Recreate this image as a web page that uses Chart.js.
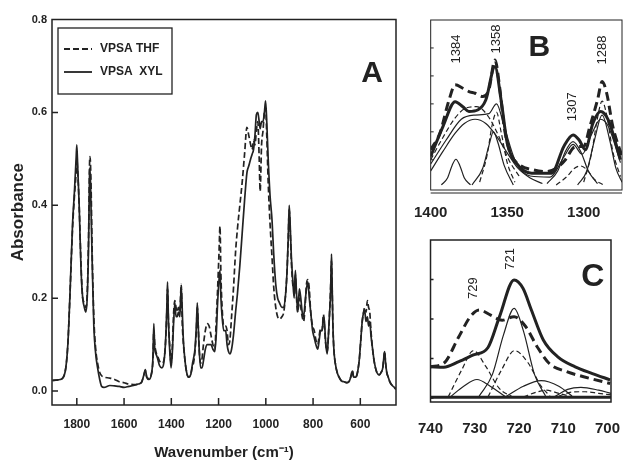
<!DOCTYPE html>
<html>
<head>
<meta charset="utf-8">
<script src="https://cdn.jsdelivr.net/npm/chart.js@4.4.1/dist/chart.umd.min.js"></script>
<style>
  body { margin: 0; background: #fff; width: 638px; height: 474px; overflow: hidden; position: relative; }
  canvas { position: absolute; }
</style>
</head>
<body>
<canvas id="chartA" width="410" height="474" style="left:0;top:0"></canvas>
<canvas id="chartB" width="238" height="232" style="left:400px;top:0"></canvas>
<canvas id="chartC" width="238" height="242" style="left:400px;top:232px"></canvas>
<script>
// ---- panel A: full spectrum ----
const wnA = [
  1903,1870,1850,1838,1828,1818,1810,1803,1800,1796,
  1790,1782,1775,1768,1762,1756,1750,1746,1744,1740,
  1735,1728,1720,1712,1703,1695,1685,1660,1640,1620,
  1600,1580,1560,1540,1525,1516,1510,1504,1495,1485,
  1478,1474,1470,1465,1458,1450,1440,1432,1425,1419,
  1416,1412,1407,1401,1396,1390,1385,1380,1375,1370,
  1364,1358,1354,1350,1343,1335,1327,1318,1310,1306,
  1300,1294,1290,1286,1282,1276,1270,1264,1256,1248,
  1240,1232,1224,1216,1210,1204,1198,1194,1190,1185,
  1178,1170,1164,1158,1152,1145,1137,1128,1120,1110,
  1100,1090,1080,1072,1064,1058,1052,1046,1040,1034,
  1028,1024,1018,1012,1006,1001,996,990,982,974,
  966,958,950,942,932,924,916,910,905,901,
  897,892,886,880,875,870,865,858,852,846,
  840,834,828,822,816,810,802,795,788,780,
  774,768,762,756,752,746,740,735,730,726,
  722,720,716,712,706,698,690,680,668,656,
  646,638,634,628,620,612,604,598,592,586,
  582,576,570,565,560,555,548,540,530,520,
  512,505,500,497,493,488,482,475,465,456,449
];
const xylA = [
  0.023,0.025,0.04,0.10,0.22,0.36,0.43,0.50,0.53,0.48,
  0.40,0.26,0.20,0.18,0.17,0.20,0.32,0.47,0.48,0.40,
  0.28,0.14,0.08,0.05,0.025,0.01,0.008,0.012,0.011,0.01,
  0.008,0.01,0.012,0.015,0.02,0.035,0.046,0.03,0.025,0.035,
  0.07,0.145,0.09,0.08,0.07,0.055,0.05,0.06,0.10,0.18,
  0.235,0.15,0.09,0.05,0.08,0.15,0.19,0.16,0.16,0.17,
  0.16,0.225,0.18,0.12,0.07,0.04,0.03,0.035,0.06,0.07,
  0.09,0.14,0.19,0.14,0.09,0.05,0.05,0.065,0.09,0.10,
  0.10,0.10,0.09,0.085,0.12,0.19,0.24,0.26,0.20,0.16,
  0.13,0.13,0.10,0.085,0.08,0.09,0.12,0.17,0.21,0.27,
  0.34,0.41,0.47,0.485,0.50,0.51,0.52,0.55,0.595,0.60,
  0.58,0.565,0.58,0.58,0.60,0.625,0.58,0.50,0.42,0.37,
  0.29,0.23,0.20,0.19,0.18,0.18,0.21,0.26,0.33,0.40,
  0.36,0.29,0.24,0.20,0.26,0.21,0.17,0.22,0.20,0.17,
  0.16,0.19,0.22,0.235,0.20,0.17,0.13,0.115,0.10,0.09,
  0.11,0.13,0.13,0.16,0.15,0.10,0.08,0.12,0.17,0.21,
  0.295,0.25,0.14,0.09,0.06,0.04,0.03,0.022,0.02,0.018,
  0.022,0.035,0.043,0.03,0.03,0.04,0.07,0.11,0.15,0.17,
  0.175,0.15,0.16,0.14,0.15,0.12,0.09,0.06,0.04,0.035,
  0.04,0.05,0.075,0.085,0.06,0.04,0.03,0.02,0.012,0.008,0.004
];
const thfA = [
  0.023,0.025,0.04,0.10,0.22,0.35,0.42,0.47,0.50,0.47,
  0.40,0.27,0.20,0.19,0.18,0.21,0.34,0.49,0.505,0.45,
  0.30,0.16,0.09,0.06,0.04,0.033,0.03,0.028,0.025,0.02,
  0.018,0.015,0.014,0.015,0.02,0.035,0.044,0.03,0.027,0.035,
  0.065,0.13,0.10,0.085,0.075,0.065,0.06,0.065,0.10,0.17,
  0.22,0.15,0.10,0.06,0.09,0.17,0.195,0.18,0.17,0.18,
  0.17,0.23,0.15,0.11,0.07,0.04,0.03,0.035,0.055,0.06,
  0.085,0.13,0.18,0.14,0.09,0.06,0.07,0.10,0.13,0.145,
  0.14,0.12,0.10,0.09,0.15,0.22,0.30,0.355,0.25,0.18,
  0.14,0.14,0.13,0.10,0.11,0.16,0.22,0.30,0.35,0.40,
  0.45,0.51,0.568,0.55,0.53,0.52,0.54,0.53,0.56,0.58,
  0.50,0.43,0.53,0.56,0.60,0.61,0.55,0.45,0.36,0.29,
  0.22,0.18,0.16,0.155,0.16,0.17,0.21,0.26,0.33,0.39,
  0.35,0.28,0.23,0.22,0.25,0.20,0.17,0.20,0.18,0.16,
  0.15,0.18,0.23,0.24,0.22,0.17,0.14,0.13,0.11,0.10,
  0.12,0.135,0.13,0.165,0.14,0.10,0.085,0.12,0.17,0.22,
  0.28,0.24,0.14,0.09,0.06,0.04,0.03,0.022,0.02,0.018,
  0.022,0.035,0.045,0.03,0.03,0.04,0.07,0.11,0.15,0.17,
  0.18,0.17,0.195,0.18,0.17,0.13,0.09,0.06,0.04,0.035,
  0.04,0.05,0.075,0.085,0.06,0.04,0.03,0.02,0.012,0.008,0.004
];

// ---- panel B: 1400-1275 region, totals + fitted bands ----
const wnB_thf = [1400,1394,1388,1384,1379,1375,1371,1366,1362,1358,1355,1352,1348,1342,1333,1325,1318,1312,1307,1304,1300,1296,1291,1288,1285,1281,1275];
const thfB    = [1.36,1.95,3.14,3.68,3.56,3.44,3.38,3.26,3.5,4.57,3.62,2.19,1.24,0.82,0.64,0.58,0.70,1.0,1.42,1.48,1.48,2.19,3.14,3.8,3.38,2.19,1.12];
const wnB_xyl = [1400,1392,1384,1379,1375,1369,1364,1358,1354,1350,1344,1334,1321,1313,1307,1303,1299,1294,1289,1284,1276];
const xylB    = [1.12,2.19,3.08,2.90,2.73,2.79,3.14,4.33,3.14,1.6,0.88,0.52,0.52,1.48,1.89,1.71,1.36,2.31,2.73,2.43,1.0];
const wnB_fit = [1400,1390,1380,1371,1362,1357,1352,1345,1335,1322,1313,1307,1301,1295,1289,1284,1276];
const fitB    = [0.85,1.7,2.45,2.6,2.65,3.0,2.2,1.0,0.42,0.38,1.1,1.55,1.2,1.9,2.45,2.2,0.9];
// solid bands (XYL)
const bandB1_wn = [1400,1392,1384,1378,1371,1364,1357,1350,1343,1335,1327];
const bandB1    = [0.6,1.3,1.95,2.3,2.45,2.3,1.85,1.25,0.7,0.35,0.15];
const bandB2_wn = [1393,1389,1386,1383.5,1381,1378,1374];
const bandB2    = [0.1,0.35,0.8,1.02,0.8,0.35,0.1];
const bandB3_wn = [1373,1366,1362,1359,1356,1352,1346];
const bandB3    = [0.1,0.7,1.5,2.0,1.6,0.8,0.1];
const bandB4_wn = [1324,1317,1312,1307,1302,1297,1291];
const bandB4    = [0.15,0.6,1.3,1.65,1.3,0.6,0.15];
const bandB5_wn = [1304,1298,1293,1288,1283,1279,1275];
const bandB5    = [0.1,0.6,1.7,2.6,1.7,0.7,0.2];
// dashed bands (THF)
const bandB6_wn = [1400,1392,1384,1377,1370,1363,1356,1349,1342];
const bandB6    = [1.0,1.8,2.5,2.85,2.9,2.6,1.9,1.0,0.4];
const bandB7_wn = [1368,1363,1360,1357,1354,1350,1345];
const bandB7    = [0.2,1.2,2.2,2.7,2.0,0.9,0.2];
const bandB8_wn = [1318,1311,1306,1302,1298,1293,1287];
const bandB8    = [0.1,0.4,0.7,0.78,0.65,0.3,0.1];
const bandB9_wn = [1300,1295,1291,1288,1285,1281,1276];
const bandB9    = [0.2,1.2,2.5,3.1,2.6,1.3,0.4];
const peaksB = ['1384','1358','1307','1288'];
const peaksB_x = [1383,1357,1307.5,1287.5];
const peaksB_y = [4.96,5.32,2.9,4.93];

// ---- panel C: 740-700 region ----
const wnC_xyl = [740,737,733.6,730.3,727,724.4,721.1,719.1,717.2,714.5,711.3,707.3,703.4,699.4];
const xylC    = [0.79,0.78,0.92,1.09,1.28,2.06,2.99,2.78,2.23,1.47,1.05,0.79,0.62,0.46];
const wnC_thf = [740,737,733.6,731,729,726.4,723.8,721.1,718.5,715.9,713.2,709.3,705.4,699.4];
const thfC    = [0.79,0.88,1.55,2.06,2.23,2.1,1.97,2.06,1.81,1.30,0.88,0.67,0.54,0.37];
const baseC_wn = [740,699.2];
const baseC    = [0.02,0.02];
const bandC1_wn = [729,726,723.5,721.1,719,716.5,714];
const bandC1    = [0.05,0.6,1.6,2.27,1.7,0.6,0.05];
const bandC2_wn = [735.5,732.5,729.5,726.5,723];
const bandC2    = [0.03,0.3,0.47,0.3,0.03];
const bandC3_wn = [723,719,715,711,708];
const bandC3    = [0.03,0.3,0.44,0.3,0.05];
const bandC4_wn = [712,709,706,702,699.2];
const bandC4    = [0.03,0.22,0.27,0.2,0.12];
const bandC5_wn = [736,733,730.3,727.5,724.5,721.5];
const bandC5    = [0.03,0.7,1.2,0.8,0.25,0.03];
const bandC6_wn = [727,724,721,718,715,713];
const bandC6    = [0.03,0.7,1.2,0.9,0.3,0.05];
const bandC7_wn = [719,716,714,711,708];
const bandC7    = [0.03,0.15,0.2,0.12,0.03];
const bandC8_wn = [711,708,705,702,699.2];
const bandC8    = [0.05,0.15,0.16,0.12,0.08];
const peaksC = ['729','721'];
const peaksC_x = [730.3,722];
const peaksC_y = [2.78,3.52];

const INK = '#222';
const FONT = '"Liberation Sans Narrow", "Liberation Sans", Arial, sans-serif';

function series(label, xs, ys, style) {
  return Object.assign({
    label: label,
    data: xs.map((x, i) => ({ x: x, y: ys[i] })),
    borderColor: INK,
    pointRadius: 0,
    fill: false,
    cubicInterpolationMode: 'monotone'
  }, style);
}
const thick = { borderWidth: 3 };
const thickDash = { borderWidth: 3, borderDash: [9, 5] };
const thin = { borderWidth: 1.2 };
const thinDash = { borderWidth: 1.2, borderDash: [5, 3] };

// frame round the plot area, ticks pointing inwards
const framePlugin = {
  id: 'frame',
  afterDatasetsDraw(chart, args, opts) {
    const { ctx, chartArea: a, scales } = chart;
    ctx.save();
    ctx.strokeStyle = INK;
    ctx.lineWidth = opts.width;
    ctx.strokeRect(a.left, a.top, a.right - a.left, a.bottom - a.top);
    if (opts.double) {
      ctx.lineWidth = 1;
      ctx.beginPath();
      ctx.moveTo(a.left, a.bottom + 3); ctx.lineTo(a.right, a.bottom + 3);
      ctx.stroke();
    }
    ctx.lineWidth = opts.width;
    ctx.beginPath();
    scales.x.ticks.forEach(t => {
      const p = scales.x.getPixelForValue(t.value);
      if (p < a.left + 3 || p > a.right - 3) return;
      ctx.moveTo(p, a.bottom); ctx.lineTo(p, a.bottom - opts.xTick);
    });
    scales.y.ticks.forEach(t => {
      const p = scales.y.getPixelForValue(t.value);
      if (p < a.top + 3 || p > a.bottom - 3) return;
      ctx.moveTo(a.left, p); ctx.lineTo(a.left + opts.yTick, p);
    });
    ctx.stroke();
    ctx.restore();
  }
};

// panel letter and rotated peak labels
const notesPlugin = {
  id: 'notes',
  afterDatasetsDraw(chart, args, opts) {
    const { ctx, scales: { x, y } } = chart;
    ctx.save();
    ctx.fillStyle = INK;
    ctx.textAlign = 'center';
    ctx.textBaseline = 'middle';
    ctx.font = 'bold ' + opts.letterSize + 'px ' + FONT;
    ctx.fillText(opts.letter, x.getPixelForValue(opts.letterX), y.getPixelForValue(opts.letterY));
    ctx.font = '13px ' + FONT;
    (opts.peaks || []).forEach((txt, i) => {
      ctx.save();
      ctx.translate(x.getPixelForValue(opts.peaksX[i]), y.getPixelForValue(opts.peaksY[i]));
      ctx.rotate(-Math.PI / 2);
      ctx.fillText(txt, 0, 0);
      ctx.restore();
    });
    ctx.restore();
  }
};

// boxed legend in the top-left corner of panel A
const boxLegend = {
  id: 'boxLegend',
  afterDatasetsDraw(chart) {
    const { ctx, chartArea: a } = chart;
    const x0 = a.left + 6, y0 = a.top + 8.5;
    ctx.save();
    ctx.strokeStyle = INK;
    ctx.lineWidth = 1.3;
    ctx.strokeRect(x0, y0, 114, 66);
    ctx.font = 'bold 12px ' + FONT;
    ctx.fillStyle = INK;
    ctx.textBaseline = 'middle';
    chart.data.datasets.forEach((ds, i) => {
      const yy = y0 + 21 + i * 23;
      ctx.lineWidth = 1.8;
      ctx.setLineDash(ds.borderDash || []);
      ctx.beginPath();
      ctx.moveTo(x0 + 6, yy); ctx.lineTo(x0 + 34, yy);
      ctx.stroke();
      ctx.setLineDash([]);
      ctx.fillText(ds.label, x0 + 42, yy);
    });
    ctx.restore();
  }
};

Chart.defaults.font.family = FONT;
Chart.defaults.color = INK;

function baseOptions(o) {
  return {
    responsive: false,
    animation: false,
    devicePixelRatio: 1,
    layout: { padding: o.padding },
    plugins: {
      legend: { display: false },
      tooltip: { enabled: false },
      frame: o.frame,
      notes: o.notes
    },
    scales: {
      x: {
        type: 'linear', reverse: true, min: o.xMin, max: o.xMax,
        grid: { display: false, drawTicks: false },
        border: { display: false },
        ticks: { stepSize: o.xStep, includeBounds: false, padding: o.xPad, maxRotation: 0,
                 font: { size: o.xFont, weight: 'bold' }, callback: v => String(v) },
        title: o.xTitle || { display: false },
        afterFit: s => { s.height = o.xHeight; }
      },
      y: {
        type: 'linear', min: o.yMin, max: o.yMax,
        grid: { display: false, drawTicks: false },
        border: { display: false },
        ticks: o.yTicks,
        title: o.yTitle || { display: false },
        afterFit: s => { s.width = o.yWidth; }
      }
    }
  };
}

new Chart(document.getElementById('chartA'), {
  type: 'line',
  data: {
    datasets: [
      series('VPSA THF', wnA, thfA, { borderWidth: 1.7, borderDash: [6, 3] }),
      series('VPSA  XYL', wnA, xylA, { borderWidth: 1.7 })
    ]
  },
  options: baseOptions({
    padding: { left: 6, top: 19.5, right: 14, bottom: 10 },
    xMin: 449, xMax: 1905, xStep: 200, xPad: 12, xFont: 12, xHeight: 59,
    xTitle: { display: true, text: 'Wavenumber (cm\u207B\u00B9)', font: { size: 15, weight: 'bold' }, padding: { top: 0, bottom: 2 } },
    yMin: -0.03, yMax: 0.8, yWidth: 46,
    yTicks: { stepSize: 0.2, includeBounds: false, padding: 5, font: { size: 11, weight: 'bold' },
              callback: v => v.toFixed(1) },
    yTitle: { display: true, text: 'Absorbance', font: { size: 17, weight: 'bold' }, padding: { top: 2, bottom: 2 } },
    frame: { width: 1.5, xTick: 7, yTick: 6 },
    notes: { letter: 'A', letterSize: 30, letterX: 550, letterY: 0.684 }
  }),
  plugins: [framePlugin, notesPlugin, boxLegend]
});

new Chart(document.getElementById('chartB'), {
  type: 'line',
  data: {
    datasets: [
      series('THF', wnB_thf, thfB, thickDash),
      series('XYL', wnB_xyl, xylB, thick),
      series('fit', wnB_fit, fitB, thin),
      series('b1', bandB1_wn, bandB1, thin),
      series('b2', bandB2_wn, bandB2, thin),
      series('b3', bandB3_wn, bandB3, thin),
      series('b4', bandB4_wn, bandB4, thin),
      series('b5', bandB5_wn, bandB5, thin),
      series('b6', bandB6_wn, bandB6, thinDash),
      series('b7', bandB7_wn, bandB7, thinDash),
      series('b8', bandB8_wn, bandB8, thinDash),
      series('b9', bandB9_wn, bandB9, thinDash)
    ]
  },
  options: baseOptions({
    padding: { left: 0, top: 20, right: 16, bottom: 0 },
    xMin: 1275, xMax: 1400, xStep: 50, xPad: 14, xFont: 15, xHeight: 42,
    yMin: -0.08, yMax: 6, yWidth: 23,
    yTicks: { display: false, stepSize: 1, includeBounds: false },
    frame: { width: 1, xTick: 0, yTick: 3, double: true },
    notes: { letter: 'B', letterSize: 30, letterX: 1329, letterY: 5.0,
             peaks: peaksB, peaksX: peaksB_x, peaksY: peaksB_y }
  }),
  plugins: [framePlugin, notesPlugin]
});

new Chart(document.getElementById('chartC'), {
  type: 'line',
  data: {
    datasets: [
      series('THF', wnC_thf, thfC, thickDash),
      series('XYL', wnC_xyl, xylC, thick),
      series('base', baseC_wn, baseC, thick),
      series('c1', bandC1_wn, bandC1, thin),
      series('c2', bandC2_wn, bandC2, thin),
      series('c3', bandC3_wn, bandC3, thin),
      series('c4', bandC4_wn, bandC4, thin),
      series('c5', bandC5_wn, bandC5, thinDash),
      series('c6', bandC6_wn, bandC6, thinDash),
      series('c7', bandC7_wn, bandC7, thinDash),
      series('c8', bandC8_wn, bandC8, thinDash)
    ]
  },
  options: baseOptions({
    padding: { left: 0, top: 8, right: 11, bottom: 0 },
    xMin: 699.2, xMax: 740, xStep: 10, xPad: 18, xFont: 15, xHeight: 72,
    yMin: -0.1, yMax: 4, yWidth: 21,
    yTicks: { display: false, stepSize: 1, includeBounds: false },
    frame: { width: 1.5, xTick: 0, yTick: 3 },
    notes: { letter: 'C', letterSize: 32, letterX: 703.3, letterY: 3.06,
             peaks: peaksC, peaksX: peaksC_x, peaksY: peaksC_y }
  }),
  plugins: [framePlugin, notesPlugin]
});
</script>
</body>
</html>
